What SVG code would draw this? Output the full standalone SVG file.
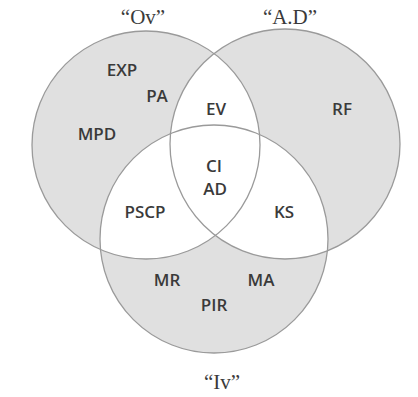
<svg xmlns="http://www.w3.org/2000/svg" width="418" height="397" viewBox="0 0 418 397">
<style>
.fill{fill:#e0e0e0;stroke:none}
.white{fill:#ffffff;stroke:none}
.edge{fill:none;stroke:#9a9a9a;stroke-width:1.3}
.lbl{font-family:"Open Sans","Liberation Sans",sans-serif;font-size:17px;font-weight:600;fill:#3a3a3a;text-anchor:middle}
.ttl{font-family:"Liberation Serif","DejaVu Serif",serif;font-size:21px;fill:#3a3a3a;text-anchor:middle}
</style>
<defs>
<clipPath id="cL"><circle cx="146" cy="145" r="114"/></clipPath>
<clipPath id="cR"><circle cx="285" cy="144" r="115"/></clipPath>
</defs>
<rect width="418" height="397" fill="#ffffff"/>
<g id="shading">
<circle class="fill" cx="146" cy="145" r="114"/>
<circle class="fill" cx="285" cy="144" r="115"/>
<circle class="fill" cx="214" cy="239" r="114"/>
<circle class="white" cx="285" cy="144" r="115" clip-path="url(#cL)"/>
<circle class="white" cx="214" cy="239" r="114" clip-path="url(#cL)"/>
<circle class="white" cx="214" cy="239" r="114" clip-path="url(#cR)"/>
</g>
<g id="set-ov">
<circle class="edge" cx="146" cy="145" r="114"/>
<text class="ttl" x="143" y="24">“Ov”</text>
</g>
<g id="set-ad">
<circle class="edge" cx="285" cy="144" r="115"/>
<text class="ttl" x="290" y="24">“A.D”</text>
</g>
<g id="set-iv">
<circle class="edge" cx="214" cy="239" r="114"/>
<text class="ttl" x="222" y="389">“Iv”</text>
</g>
<g id="labels">
<text class="lbl" x="122" y="76">EXP</text>
<text class="lbl" x="157" y="102">PA</text>
<text class="lbl" x="97" y="140">MPD</text>
<text class="lbl" x="216" y="115">EV</text>
<text class="lbl" x="342" y="115">RF</text>
<text class="lbl" x="214" y="172">CI</text>
<text class="lbl" x="215" y="195">AD</text>
<text class="lbl" x="145" y="218">PSCP</text>
<text class="lbl" x="284" y="218">KS</text>
<text class="lbl" x="167" y="286">MR</text>
<text class="lbl" x="261" y="286">MA</text>
<text class="lbl" x="214" y="311">PIR</text>
</g>
</svg>
